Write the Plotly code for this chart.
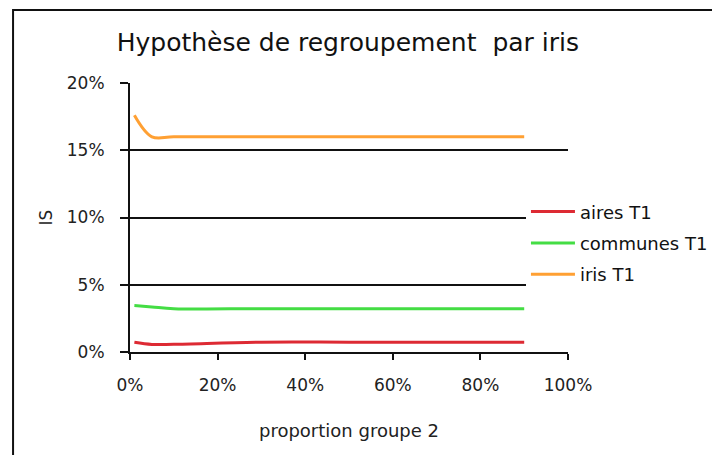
import plotly.graph_objects as go

# proportion du groupe 2 (x) et indice de ségrégation IS par découpage
proportion = [0.01, 0.05, 0.10, 0.30, 0.50, 0.70, 0.90]
aires_t1 = [0.0072, 0.0056, 0.0057, 0.0073, 0.0073, 0.0073, 0.0073]
communes_t1 = [0.0345, 0.0335, 0.0322, 0.0322, 0.0322, 0.0322, 0.0322]
iris_t1 = [0.176, 0.160, 0.160, 0.160, 0.160, 0.160, 0.160]

series = [
    ('aires T1', aires_t1, '#dd2a33'),
    ('communes T1', communes_t1, '#44dd44'),
    ('iris T1', iris_t1, '#ffa033'),
]

FONT = 'DejaVu Sans, Verdana, sans-serif'

fig = go.Figure()
for i, (name, values, color) in enumerate(series):
    fig.add_trace(go.Scatter(
        x=proportion,
        y=values,
        name=name,
        mode='lines',
        line=dict(color=color, width=3, shape='spline'),
        legendgroup=str(i),
    ))

fig.update_layout(
    width=720,
    height=455,
    margin=dict(l=122, r=160, t=75, b=111),
    paper_bgcolor='white',
    plot_bgcolor='white',
    font=dict(family=FONT, size=17, color='#222222'),
    title=dict(
        text='Hypothèse de regroupement  par iris',
        x=0.472, xanchor='center', y=0.925, yanchor='middle',
        font=dict(family=FONT, size=25, color='#111111'),
    ),
    xaxis=dict(
        range=[0, 1],
        tickvals=[0, 0.2, 0.4, 0.6, 0.8, 1.0],
        tickformat='.0%',
        ticks='outside', ticklen=6, tickcolor='#111', tickwidth=2,
        ticklabelstandoff=11,
        showline=True, linecolor='#111', linewidth=2,
        showgrid=False, zeroline=False,
        title=dict(text='proportion groupe 2', standoff=30, font=dict(size=18)),
    ),
    yaxis=dict(
        range=[0, 0.2],
        tickvals=[0, 0.05, 0.10, 0.15, 0.20],
        tickformat='.0%',
        ticks='outside', ticklen=8, tickcolor='#111', tickwidth=2,
        ticklabelstandoff=12,
        showline=True, linecolor='#111', linewidth=2,
        showgrid=True, gridcolor='#111', gridwidth=1.5,
        zeroline=False,
        title=dict(text='IS', standoff=10, font=dict(size=17)),
    ),
    legend=dict(
        x=0.904, xanchor='left', y=0.59, yanchor='top',
        bgcolor='white', tracegroupgap=5, itemwidth=44,
        font=dict(family=FONT, size=18, color='#111'),
    ),
    shapes=[dict(
        type='rect', xref='paper', yref='paper',
        x0=-0.267, x1=1.5, y0=-0.6, y1=1.271,
        line=dict(color='#111', width=2), layer='below',
    )],
)

fig.write_html('out.html')
